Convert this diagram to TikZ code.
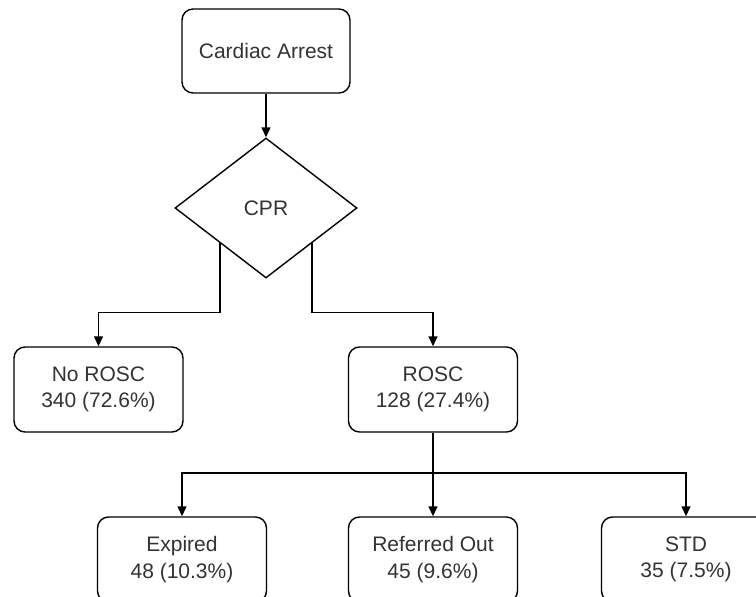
\documentclass[tikz,border=0pt]{standalone}
\usepackage{fontspec}
\setmainfont{Liberation Sans}
\usetikzlibrary{shapes.geometric,arrows.meta,calc}
\definecolor{txt}{HTML}{333333}
\tikzset{
  box/.style={draw=black, line width=1.4pt, rounded corners=11pt, minimum width=169pt, minimum height=85pt, align=center, text=txt, font=\fontsize{21}{26.5}\selectfont, inner sep=0pt},
  dec/.style={draw=black, line width=1.4pt, shape=diamond, minimum width=182pt, minimum height=140pt, inner sep=0pt, text=txt, font=\fontsize{21}{26.5}\selectfont},
  arr/.style={draw=black, line width=1.4pt, -{Triangle[length=10pt,width=9pt]}},
  ln/.style={draw=black, line width=1.4pt}
}
\begin{document}
\begin{tikzpicture}[x=1pt,y=-1pt]
\useasboundingbox (0,0) rectangle (756,597);
\clip (0,0) rectangle (756,597);
\fill[white] (0,0) rectangle (756,597);
\node[box, minimum width=168pt, minimum height=84pt] (ca) at (266,51) {Cardiac Arrest};
\node[dec] (cpr) at (266,208) {CPR};
\node[box] (norosc) at (98.5,389.5) {No ROSC\\340 (72.6\%)};
\node[box] (rosc) at (433,389.5) {ROSC\\128 (27.4\%)};
\node[box] (expired) at (182,559.5) {Expired\\48 (10.3\%)};
\node[box] (referred) at (433,559.5) {Referred Out\\45 (9.6\%)};
\node[box] (std) at (686,559.5) {STD\\35 (7.5\%)};
\coordinate (cl) at ($(cpr.west)!0.5!(cpr.south)$);
\coordinate (cr) at ($(cpr.east)!0.5!(cpr.south)$);
\coordinate (hub) at (433,473);
\draw[arr] (ca.south) -- (cpr.north);
\draw[arr] (cl) |- ($(norosc.north)+(0,-34)$) -| (norosc.north);
\draw[arr] (cr) |- ($(rosc.north)+(0,-34)$) -| (rosc.north);
\draw[ln] (rosc.south) -- (hub);
\draw[arr] (hub) -| (expired.north);
\draw[arr] (hub) -| (std.north);
\draw[arr] (hub) -- (referred.north);
\end{tikzpicture}
\end{document}
